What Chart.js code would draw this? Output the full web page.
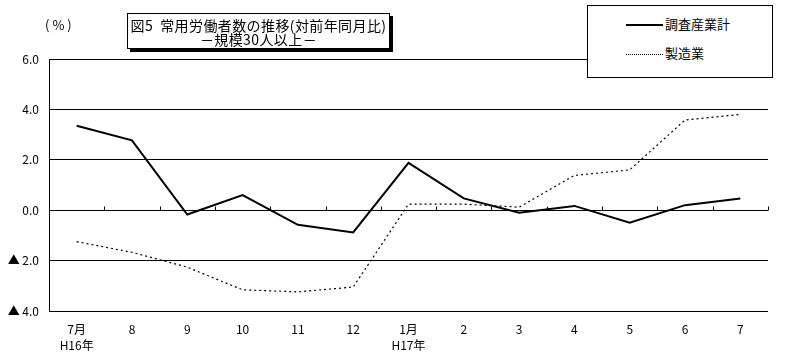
<!DOCTYPE html>
<html>
<head>
<meta charset="utf-8">
<script src="https://cdn.jsdelivr.net/npm/chart.js@4/dist/chart.umd.min.js"></script>
<style>
  html, body { margin: 0; padding: 0; background: #fff; }
  #wrap { position: relative; width: 808px; height: 360px; font-family: "Noto Sans CJK JP", "Noto Sans", sans-serif; color: #000; }
  #c { position: absolute; left: 0; top: 0; }
  #unit { position: absolute; left: 45px; top: 16px; font-size: 13px; line-height: 18px; letter-spacing: 3px; }
  #title { position: absolute; left: 127px; top: 13px; width: 261px; height: 30px; border: 1px solid #000; background: #fff;
           box-shadow: 3px 3px 0 #000; text-align: center; font-size: 14px; line-height: 14px; padding-top: 4px; white-space: nowrap; letter-spacing: 0.4px; }
  #legend { position: absolute; left: 587px; top: 5px; width: 184px; height: 71px; border: 1px solid #000; background: #fff; font-size: 13px; }
  .li { position: absolute; left: 38px; height: 18px; line-height: 18px; }
  .sw { display: inline-block; width: 37px; vertical-align: middle; margin-right: 2px; }
  #li1 { top: 9px; } #li2 { top: 38px; }
  #li1 .sw { border-top: 2px solid #000; }
  #li2 .sw { border-top: 1px dotted #000; }
</style>
</head>
<body>
<div id="wrap">
  <canvas id="c" width="808" height="360"></canvas>
  <div id="unit">(%)</div>
  <div id="title">図5&nbsp;&nbsp;常用労働者数の推移(対前年同月比)<br>－規模30人以上－</div>
  <div id="legend">
    <div class="li" id="li1"><span class="sw"></span>調査産業計</div>
    <div class="li" id="li2"><span class="sw"></span>製造業</div>
  </div>
</div>
<script>
const categories = [['7月','H16年'], '8', '9', '10', '11', '12', ['1月','H17年'], '2', '3', '4', '5', '6', '7'];
const seriesNames = ['調査産業計', '製造業'];
const allIndustries = [3.35, 2.77, -0.17, 0.60, -0.58, -0.88, 1.88, 0.47, -0.10, 0.17, -0.50, 0.20, 0.46];
const manufacturing = [-1.25, -1.67, -2.26, -3.16, -3.24, -3.05, 0.24, 0.24, 0.12, 1.38, 1.60, 3.58, 3.80];
const yTickValues = [-4, -2, 0, 2, 4, 6];
const yTickLabels = ['▲ 4.0', '▲ 2.0', '0.0', '2.0', '4.0', '6.0'];

const zeroTicks = {
  id: 'zeroTicks',
  afterDatasetsDraw(chart) {
    const xs = chart.scales.x, ys = chart.scales.y, ctx = chart.ctx;
    const n = categories.length;
    const y0 = Math.round(ys.getPixelForValue(0)) + 0.5;
    ctx.save();
    ctx.strokeStyle = '#000';
    ctx.lineWidth = 1;
    ctx.beginPath();
    for (let i = 0; i <= n; i++) {
      let x;
      if (i === 0) x = chart.chartArea.left;
      else if (i === n) x = chart.chartArea.right;
      else x = (xs.getPixelForValue(i - 1) + xs.getPixelForValue(i)) / 2;
      x = Math.round(x) + 0.5;
      ctx.moveTo(x, y0);
      ctx.lineTo(x, y0 - 4);
    }
    ctx.stroke();
    ctx.restore();
  }
};

new Chart(document.getElementById('c'), {
  type: 'line',
  data: {
    labels: categories,
    datasets: [
      { label: seriesNames[0], data: allIndustries, borderColor: '#000', borderWidth: 2, pointRadius: 0, tension: 0, fill: false },
      { label: seriesNames[1], data: manufacturing, borderColor: '#000', borderWidth: 1.2, borderDash: [2, 3], pointRadius: 0, tension: 0, fill: false }
    ]
  },
  options: {
    responsive: false,
    animation: false,
    devicePixelRatio: 1,
    layout: { padding: { top: 59, right: 40, left: 0, bottom: 0 } },
    plugins: { legend: { display: false }, tooltip: { enabled: false }, title: { display: false } },
    scales: {
      x: {
        offset: true,
        grid: { display: false, drawTicks: false },
        border: { display: false },
        ticks: {
          color: '#000', padding: 10, maxRotation: 0, autoSkip: false,
          font: { family: '"Noto Sans CJK JP", sans-serif', size: 12, lineHeight: 1.35 }
        },
        afterFit(s) { s.height = 49; }
      },
      y: {
        min: -4, max: 6,
        afterBuildTicks(s) { s.ticks = yTickValues.map(v => ({ value: v })); },
        grid: { color: '#000', lineWidth: 1, drawTicks: false },
        border: { display: true, color: '#000', width: 1 },
        ticks: {
          color: '#000', padding: 10,
          font: { family: '"Noto Sans CJK JP", sans-serif', size: 12 },
          callback(v) { const i = yTickValues.indexOf(v); return i >= 0 ? yTickLabels[i] : ''; }
        },
        afterFit(s) { s.width = 49; }
      }
    }
  },
  plugins: [zeroTicks]
});
</script>
</body>
</html>
